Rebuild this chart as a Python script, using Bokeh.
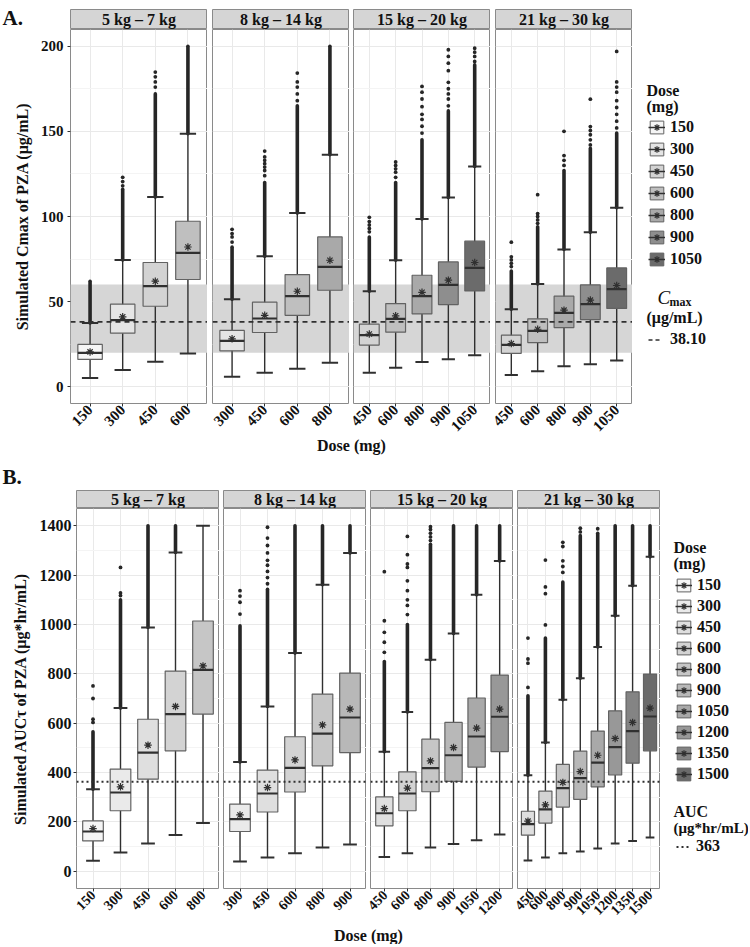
import math
from bokeh.plotting import figure
from bokeh.layouts import row, column
from bokeh.models import (Range1d, FactorRange, FixedTicker, Grid, Label, Legend,
                          LegendItem, ColumnDataSource, Span, BoxAnnotation)
from bokeh.embed import file_html
from bokeh.resources import INLINE

FONT = "Liberation Serif"
NAN = float("nan")

FACETS = ["5 kg – 7 kg", "8 kg – 14 kg", "15 kg – 20 kg", "21 kg – 30 kg"]

# ---------------- Panel A : simulated Cmax (ug/mL) ----------------
A_LEVELS = [150, 300, 450, 600, 800, 900, 1050]
A_DOSES = [[150, 300, 450, 600], [300, 450, 600, 800],
           [450, 600, 800, 900, 1050], [450, 600, 800, 900, 1050]]
A_LOW = [[5.1, 9.8, 14.7, 19.6], [5.9, 8.2, 10.6, 14.1],
         [8.2, 11.2, 14.5, 16.2, 18.6], [6.9, 9.2, 12.1, 13.3, 15.5]]
A_Q1 = [[16.1, 31.5, 47.3, 63.0], [21.1, 31.9, 42.0, 56.7],
        [24.5, 32.1, 42.8, 48.3, 56.3], [19.6, 26.0, 34.8, 39.5, 46.0]]
A_MED = [[19.9, 39.1, 59.1, 78.6], [27.0, 40.1, 53.2, 70.4],
         [30.3, 39.9, 53.2, 59.8, 69.8], [24.6, 32.8, 43.4, 48.5, 57.3]]
A_Q3 = [[24.9, 48.5, 73.0, 97.2], [33.1, 49.7, 65.9, 88.0],
        [36.8, 48.9, 65.5, 73.3, 85.5], [30.3, 39.9, 53.2, 59.8, 69.8]]
A_HIGH = [[37.5, 74.5, 111.4, 148.6], [51.4, 76.6, 102.0, 136.3],
          [56.1, 74.3, 98.5, 111.1, 129.4], [45.6, 60.4, 80.6, 90.7, 105.2]]
A_MEAN = [[20.5, 41.1, 62.0, 82.1], [28.2, 42.0, 56.1, 74.3],
          [31.0, 41.7, 55.5, 62.6, 73.0], [25.4, 33.8, 45.0, 50.9, 59.5]]
A_DENSE_TOP = [[62.0, 116.0, 172.0, 200.0], [82.0, 120.0, 165.0, 200.0],
               [88.0, 120.0, 145.0, 162.0, 189.0], [68.0, 94.0, 127.0, 140.0, 149.0]]
A_SPARSE = [
    [[], [118, 120.5, 123], [176, 179, 182, 184.8], []],
    [[85, 88, 90, 92.5], [124, 127, 129, 131, 133, 135, 138.4],
     [168, 172, 176, 179, 184.2], []],
    [[91, 93, 95, 97, 99.5], [123, 126, 128, 130, 132],
     [149, 153, 157, 160, 164.5, 169, 173, 176.4],
     [165, 169, 172, 175, 178.8, 185.6, 190, 194, 197.9], [191, 194, 196.5, 198.8]],
    [[70.6, 72.5, 74.5, 76.3, 84.9], [96, 98, 100, 101.7, 112.8], [130, 133, 135.8, 150],
     [142, 145, 148, 150.5, 152.8, 168.9], [152, 156, 160, 164, 168, 173, 176, 179, 196.9]],
]
A_BAND = [20, 60]
A_REF = 38.10
A_Y_TICKS = [0, 50, 100, 150, 200]
A_Y_MINOR = [25, 75, 125, 175]
A_Y_LIMITS = [-9.8, 209.8]

# ---------------- Panel B : simulated AUCtau (ug*hr/mL) ----------------
B_LEVELS = [150, 300, 450, 600, 800, 900, 1050, 1200, 1350, 1500]
B_DOSES = [[150, 300, 450, 600, 800], [300, 450, 600, 800, 900],
           [450, 600, 800, 900, 1050, 1200],
           [450, 600, 800, 900, 1050, 1200, 1350, 1500]]
B_LOW = [[42, 76, 112, 147, 195], [39, 56, 73, 96, 108],
         [58, 73, 96, 110, 126, 149], [43, 56, 73, 80, 92, 112, 123, 137]]
B_Q1 = [[123, 245, 373, 488, 637], [161, 240, 321, 427, 481],
        [184, 245, 322, 364, 422, 485], [146, 195, 260, 291, 342, 390, 438, 488]]
B_MED = [[161, 319, 481, 637, 816], [211, 315, 419, 558, 623],
         [235, 315, 418, 470, 546, 626], [191, 251, 337, 377, 440, 503, 568, 627]]
B_Q3 = [[204, 414, 616, 811, 1014], [272, 410, 545, 718, 803],
        [301, 403, 535, 603, 702, 795], [243, 325, 433, 487, 568, 650, 727, 799]]
B_HIGH = [[332, 661, 988, 1292, 1400], [443, 668, 884, 1161, 1290],
          [484, 645, 857, 963, 1120, 1257], [389, 522, 695, 782, 909, 1035, 1157, 1274]]
B_MEAN = [[173, 342, 511, 668, 832], [228, 339, 451, 593, 657],
          [254, 337, 447, 501, 580, 657], [203, 269, 360, 404, 470, 538, 603, 661]]
B_DENSE_TOP = [[565, 1100, 1400, 1400, None], [995, 1143, 1400, 1400, 1400],
               [850, 1000, 1325, 1400, 1400, 1400],
               [711, 945, 1172, 1360, 1370, 1400, 1400, 1400]]
B_SPARSE = [
    [[603, 616, 700, 751], [1117, 1128, 1231], [], [], []],
    [[1042, 1090, 1115, 1137], [1165, 1190, 1215, 1240, 1260, 1290, 1320, 1350, 1394],
     [], [], []],
    [[887, 928, 968, 1015, 1214], [1040, 1077, 1100, 1137, 1177, 1231, 1245, 1283, 1357],
     [1340, 1355, 1370, 1385, 1396], [], [], []],
    [[745, 843, 860, 945], [998, 1125, 1152, 1261], [1211, 1235, 1258, 1316, 1333],
     [1375, 1390], [1388], [], [], []],
]
B_REF = 363
B_Y_TICKS = [0, 200, 400, 600, 800, 1000, 1200, 1400]
B_Y_MINOR = [100, 300, 500, 700, 900, 1100, 1300]
B_Y_LIMITS = [-70, 1470]

# ---------------- style ----------------
TEXT = "#111111"
DARK = "#303030"
OUT = "#262626"
BOX_LINE = "#626262"
GRID = "#e9e9e9"
GRID_MINOR = "#f4f4f4"
BORDER = "#8a8a8a"
STRIP = "#d5d5d5"
BAND = "#d6d6d6"


def grey_palette(n, start=0.96, end=0.42, gamma=2.2):
    out = []
    for i in range(n):
        t = i / (n - 1)
        v = (start ** gamma + (end ** gamma - start ** gamma) * t) ** (1 / gamma)
        c = int(round(v * 255))
        out.append("#%02x%02x%02x" % (c, c, c))
    return out


A_COLORS = dict(zip(A_LEVELS, grey_palette(len(A_LEVELS))))
B_COLORS = dict(zip(B_LEVELS, grey_palette(len(B_LEVELS))))

W_TOTAL = 748


def no_grid(p):
    for g in p.xgrid:
        g.visible = False
    for g in p.ygrid:
        g.visible = False


def text_fig(w, h, labels=()):
    p = figure(frame_width=w, frame_height=h, x_range=Range1d(0, w), y_range=Range1d(h, 0),
               x_axis_location=None, y_axis_location=None, output_backend="svg",
               toolbar_location=None, min_border_left=0, min_border_right=0,
               min_border_top=0, min_border_bottom=0)
    p.outline_line_color = None
    p.background_fill_color = None
    p.border_fill_color = None
    no_grid(p)
    for lab_ in labels:
        p.add_layout(lab_)
    return p


def lab(x, y, text, size="16px", style="bold", align="left", baseline="middle"):
    return Label(x=x, y=y, text=text, text_font=FONT, text_font_style=style,
                 text_font_size=size, text_color=TEXT, text_align=align,
                 text_baseline=baseline)


def make_strip(text, fw, fh, left, top=0):
    p = figure(frame_width=fw, frame_height=fh, x_range=Range1d(0, 1), y_range=Range1d(0, 1),
               x_axis_location=None, y_axis_location=None, output_backend="svg",
               toolbar_location=None, min_border_left=left, min_border_right=0,
               min_border_top=top, min_border_bottom=0)
    p.background_fill_color = STRIP
    p.border_fill_color = None
    p.outline_line_color = BORDER
    no_grid(p)
    p.add_layout(Label(x=0.5, y=0.5, text=text, text_align="center", text_baseline="middle",
                       text_font=FONT, text_font_style="bold", text_font_size="16px",
                       text_color=TEXT))
    return p


def make_facet(doses, low, q1, med, q3, high, mean, dtop, sparse, colors, ylim,
               ticks, minor, fw, fh, left, bottom, ylabel, ylabel_standoff, ytick_size,
               ytick_standoff, xtick_size, ref_value, ref_dash, ref_width, band=None):
    xs = [str(d) for d in doses]
    first = ylabel is not None
    p = figure(frame_width=fw, frame_height=fh,
               x_range=FactorRange(factors=xs, range_padding=0.1,
                                   range_padding_units="absolute"),
               y_range=Range1d(ylim[0], ylim[1]), output_backend="svg",
               toolbar_location=None, y_axis_location="left" if first else None,
               min_border_left=left, min_border_right=0, min_border_top=0,
               min_border_bottom=bottom)
    p.background_fill_color = "white"
    p.border_fill_color = None
    p.outline_line_color = BORDER
    p.outline_line_width = 1
    p.xgrid.grid_line_color = GRID
    if first:
        ax = p.yaxis[0]
        ax.ticker = FixedTicker(ticks=ticks, minor_ticks=minor)
        ax.axis_label = ylabel
        ax.axis_label_text_font = FONT
        ax.axis_label_text_font_style = "bold"
        ax.axis_label_text_font_size = "16px"
        ax.axis_label_text_color = TEXT
        ax.axis_label_standoff = ylabel_standoff
        ax.major_label_text_font = FONT
        ax.major_label_text_font_style = "bold"
        ax.major_label_text_font_size = ytick_size
        ax.major_label_text_color = TEXT
        ax.major_label_standoff = ytick_standoff
        ax.major_tick_out = 3
        ax.major_tick_in = 0
        ax.minor_tick_out = 0
        ax.minor_tick_in = 0
        ax.axis_line_color = None
        ax.major_tick_line_color = DARK
        p.ygrid.grid_line_color = GRID
        p.ygrid.minor_grid_line_color = GRID_MINOR
    else:
        for g in p.ygrid:
            g.visible = False
        p.add_layout(Grid(dimension=1, ticker=FixedTicker(ticks=ticks, minor_ticks=minor),
                          grid_line_color=GRID, minor_grid_line_color=GRID_MINOR))
    if band is not None:
        p.add_layout(BoxAnnotation(bottom=band[0], top=band[1], fill_color=BAND,
                                   fill_alpha=1.0, line_color=None, level="underlay"))

    src = ColumnDataSource(dict(x=xs, low=low, q1=q1, med=med, q3=q3, high=high,
                                mean=mean, color=[colors[d] for d in doses]))
    dx, d0, d1 = [], [], []
    for x, h, t in zip(xs, high, dtop):
        if t is not None and t > h:
            dx.append(x); d0.append(h); d1.append(t)
    sx, sy = [], []
    for x, pts in zip(xs, sparse):
        for v in pts:
            sx.append(x); sy.append(v)

    p.segment(x0="x", y0="low", x1="x", y1="high", source=src, line_color=DARK,
              line_width=1.4)
    p.segment(x0=dx, y0=d0, x1=dx, y1=d1, line_color=OUT, line_width=3.6,
              line_cap="round")
    p.scatter(x=sx, y=sy, marker="circle", size=3.8, fill_color=OUT, line_color=None)
    p.vbar(x="x", width=0.75, bottom="q1", top="q3", source=src, fill_color="color",
           line_color=BOX_LINE, line_width=1.2)
    p.rect(x="x", y="med", width=0.75, height=2.2, height_units="screen", source=src,
           fill_color=DARK, line_color=None)
    p.rect(x="x", y="low", width=0.5, height=2, height_units="screen", source=src,
           fill_color=DARK, line_color=None)
    p.rect(x="x", y="high", width=0.5, height=2, height_units="screen", source=src,
           fill_color=DARK, line_color=None)
    p.scatter(x="x", y="mean", source=src, marker="asterisk", size=7.5, line_color=DARK,
              line_width=1.2)
    p.add_layout(Span(location=ref_value, dimension="width", line_color=DARK,
                      line_width=ref_width, line_dash=ref_dash))

    xa = p.xaxis[0]
    xa.major_label_orientation = math.pi / 4
    xa.major_label_text_font = FONT
    xa.major_label_text_font_style = "bold"
    xa.major_label_text_font_size = xtick_size
    xa.major_label_text_color = TEXT
    xa.major_label_standoff = 1
    xa.major_tick_out = 3
    xa.major_tick_in = 0
    xa.axis_line_color = None
    xa.major_tick_line_color = DARK
    return p


def make_legend_fig(fw, fh, bottom, levels, colors, first_center, spacing, key_x,
                    title_pos, extra_labels, ref_label, ref_dash, ref_width, ref_center,
                    ref_x, ref_glyph_w, ref_standoff):
    p = figure(frame_width=fw, frame_height=fh, x_range=Range1d(0, fw),
               y_range=Range1d(fh, 0), x_axis_location=None, y_axis_location=None,
               output_backend="svg", toolbar_location=None, min_border_left=0,
               min_border_right=0, min_border_top=0, min_border_bottom=bottom)
    p.outline_line_color = None
    p.background_fill_color = None
    p.border_fill_color = None
    no_grid(p)
    items = []
    for lvl in levels:
        rb = p.vbar(x=[NAN], top=[NAN], bottom=[NAN], width=1, fill_color=colors[lvl],
                    line_color=BOX_LINE, line_width=1)
        rm = p.line(x=[NAN], y=[NAN], line_color=DARK, line_width=1.5)
        ra = p.scatter(x=[NAN], y=[NAN], marker="asterisk", size=7, line_color=DARK,
                       line_width=1.2)
        items.append(LegendItem(label=str(lvl), renderers=[rb, rm, ra]))
    item_h = 19
    n = len(levels)
    total = n * item_h + (n - 1) * spacing
    top = first_center - item_h / 2
    leg = Legend(items=items, location=(key_x, fh - (top + total)), padding=0, margin=0,
                 spacing=spacing, glyph_width=17, glyph_height=16, label_height=item_h,
                 label_standoff=5, border_line_color=None, background_fill_alpha=0,
                 label_text_font=FONT, label_text_font_style="bold",
                 label_text_font_size="16px", label_text_color=TEXT)
    p.add_layout(leg)
    rl = p.line(x=[NAN], y=[NAN], line_color=DARK, line_width=ref_width, line_dash=ref_dash)
    leg2 = Legend(items=[LegendItem(label=ref_label, renderers=[rl])],
                  location=(ref_x, fh - (ref_center + item_h / 2)), padding=0, margin=0,
                  glyph_width=ref_glyph_w, glyph_height=item_h, label_height=item_h,
                  label_standoff=ref_standoff, border_line_color=None,
                  background_fill_alpha=0, label_text_font=FONT,
                  label_text_font_style="bold", label_text_font_size="16px",
                  label_text_color=TEXT)
    p.add_layout(leg2)
    p.add_layout(lab(title_pos[0], title_pos[1], "Dose"))
    p.add_layout(lab(title_pos[0], title_pos[1] + 16, "(mg)"))
    for l in extra_labels:
        p.add_layout(l)
    return p


# ---------------- Panel A layout ----------------
A_LEFT, A_FW, A_FH, A_STRIP_H, A_TOP = 70, 137, 374, 20, 9
A_GAPS = [0, 5, 4, 5]
A_BOTTOM = 32
A_LEG_W = W_TOTAL - (A_LEFT + 4 * A_FW + sum(A_GAPS))

a_strips = [text_fig(A_LEFT, A_TOP + A_STRIP_H, [lab(2, 8, "A.", size="21px")])]
a_facets = []
for k in range(4):
    left = A_LEFT if k == 0 else A_GAPS[k]
    a_strips.append(make_strip(FACETS[k], A_FW, A_STRIP_H, A_GAPS[k], top=A_TOP))
    a_facets.append(make_facet(
        A_DOSES[k], A_LOW[k], A_Q1[k], A_MED[k], A_Q3[k], A_HIGH[k], A_MEAN[k],
        A_DENSE_TOP[k], A_SPARSE[k], A_COLORS, A_Y_LIMITS, A_Y_TICKS, A_Y_MINOR,
        A_FW, A_FH, left, A_BOTTOM,
        "Simulated Cmax of PZA (μg/mL)" if k == 0 else None,
        7, "15px", 4, "15px", A_REF, "5 4", 1.6, band=A_BAND))

a_leg = make_legend_fig(
    A_LEG_W, A_FH, A_BOTTOM, A_LEVELS, A_COLORS, first_center=97.7, spacing=3, key_x=16,
    title_pos=(14, 61),
    extra_labels=[lab(25, 268, "C", size="19px", style="italic"),
                  lab(37, 272, "max", size="12px"),
                  lab(14, 288, "(μg/mL)")],
    ref_label="38.10", ref_dash="4 3", ref_width=1.6, ref_center=310, ref_x=16,
    ref_glyph_w=13, ref_standoff=9)

# ---------------- Panel B layout ----------------
B_LEFT, B_FW, B_FH, B_STRIP_H = 76, 143, 380, 18
B_GAPS = [0, 4, 4, 4]
B_BOTTOM = 34
B_LEG_W = W_TOTAL - (B_LEFT + 4 * B_FW + sum(B_GAPS))

# full-width band between the panels: panel A x title and the "B." tag
a_center = A_LEFT + (4 * A_FW + sum(A_GAPS)) / 2
GAP_H = 52
between = text_fig(W_TOTAL, GAP_H, [lab(a_center, 7, "Dose (mg)", align="center"),
                                    lab(2, 38, "B.", size="21px")])

b_strips = []
b_facets = []
for k in range(4):
    left = B_LEFT if k == 0 else B_GAPS[k]
    b_strips.append(make_strip(FACETS[k], B_FW, B_STRIP_H, left, top=0))
    b_facets.append(make_facet(
        B_DOSES[k], B_LOW[k], B_Q1[k], B_MED[k], B_Q3[k], B_HIGH[k], B_MEAN[k],
        B_DENSE_TOP[k], B_SPARSE[k], B_COLORS, B_Y_LIMITS, B_Y_TICKS, B_Y_MINOR,
        B_FW, B_FH, left, B_BOTTOM,
        "Simulated AUCτ of PZA (μg*hr/mL)" if k == 0 else None,
        8, "16px", 2, "14px", B_REF, "2 3", 2.0))

b_leg = make_legend_fig(
    B_LEG_W, B_FH, B_BOTTOM, B_LEVELS, B_COLORS, first_center=77.3, spacing=2, key_x=15,
    title_pos=(13, 39),
    extra_labels=[lab(13, 303, "AUC"),
                  lab(13, 319, "(μg*hr/mL)", size="15px")],
    ref_label="363", ref_dash="2 3", ref_width=2.0, ref_center=338, ref_x=16,
    ref_glyph_w=14, ref_standoff=6)

b_center = B_LEFT + (4 * B_FW + sum(B_GAPS)) / 2
b_title = text_fig(W_TOTAL, 22, [lab(b_center, 13, "Dose (mg)", align="center")])

layout = column(
    row(*a_strips),
    row(*a_facets, a_leg),
    between,
    row(*b_strips),
    row(*b_facets, b_leg),
    b_title,
)

html = file_html(layout, INLINE, title="PZA simulated Cmax and AUC")
open("out.html", "w").write(html)
